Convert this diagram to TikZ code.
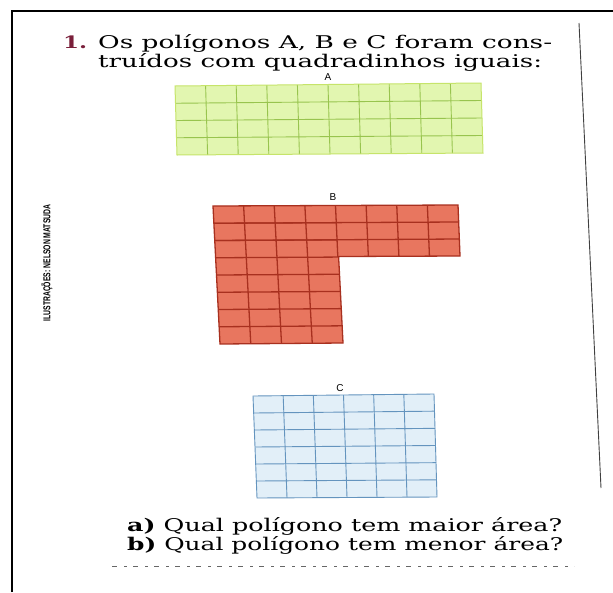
\documentclass[tikz,border=0pt]{standalone}
\usepackage{fontspec}
\usepackage{graphicx}
\setmainfont{DejaVu Serif}
\setsansfont{Liberation Sans}
\usetikzlibrary{calc}
\definecolor{afill}{HTML}{E2F6B0}
\definecolor{aline}{HTML}{98C44E}
\definecolor{aedge}{HTML}{C6E46A}
\definecolor{bfill}{HTML}{E8765F}
\definecolor{bline}{HTML}{A8301F}
\definecolor{cfill}{HTML}{E2EFF8}
\definecolor{cline}{HTML}{6494BE}
\definecolor{numred}{HTML}{7A1F3A}
\newcommand{\gridv}[6]{% tl tr br bl style list
  \foreach \i in {#6} {\draw[#5] ($(#1)!\i!(#2)$) -- ($(#4)!\i!(#3)$);}}
\newcommand{\gridh}[6]{%
  \foreach \j in {#6} {\draw[#5] ($(#1)!\j!(#4)$) -- ($(#2)!\j!(#3)$);}}
\begin{document}
\begin{tikzpicture}[x=1pt,y=-1pt,
  txt/.style={anchor=base west,inner sep=0pt},
  lbl/.style={inner sep=0pt,font=\sffamily\fontsize{10}{10}\selectfont},
  alin/.style={aline,line width=0.9pt},
  blin/.style={bline,line width=1.3pt},
  clin/.style={cline,line width=0.9pt}]
\useasboundingbox (0,0) rectangle (613,592);
\fill[white] (0,0) rectangle (613,592);
% frame
\draw[black,line width=1.5pt] (12,592) -- (12,11) -- (613,11);
\coordinate (vt) at (579,23);
\coordinate (vb) at (601,488);
\draw[black!75,line width=0.9pt] (vt) -- (vb);
% heading
\node[txt,text=numred] (num) at (63,48) {\resizebox{24pt}{\height}{\fontsize{17}{17}\selectfont\bfseries 1.}};
\node[txt] (l1) at (98,48) {\resizebox{454pt}{\height}{\fontsize{17.5}{17.5}\selectfont Os polígonos A, B e C foram cons-}};
\node[txt] (l2) at (98,67) {\resizebox{444pt}{\height}{\fontsize{17.5}{17.5}\selectfont truídos com quadradinhos iguais:}};
% side credit
\node[inner sep=0pt,rotate=90] (cred) at (47,263) {\resizebox{117pt}{\height}{\sffamily\bfseries\fontsize{10}{10}\selectfont ILUSTRAÇÕES: NELSON MATSUDA}};
% polygon A
\coordinate (A1) at (175,86); \coordinate (A2) at (481,83);
\coordinate (A3) at (483,153); \coordinate (A4) at (177,155);
\fill[afill] (A1) -- (A2) -- (A3) -- (A4) -- cycle;
\gridv{A1}{A2}{A3}{A4}{alin}{0.1,0.2,0.3,0.4,0.5,0.6,0.7,0.8,0.9}
\gridh{A1}{A2}{A3}{A4}{alin}{0.25,0.5,0.75}
\draw[aedge,line width=1pt] (A1) -- (A2) -- (A3) -- (A4) -- cycle;
\node[lbl] (la) at (328,77) {A};
% polygon B
\coordinate (B1) at (213,206); \coordinate (B2) at (458,205);
\coordinate (B3) at (460,256); \coordinate (B4) at (338.6,256.5);
\coordinate (B5) at (343,343); \coordinate (B6) at (220,344);
\coordinate (Bm) at ($(B1)!0.375!(B6)$);
\coordinate (Bt) at ($(B1)!0.5!(B2)$);
\fill[bfill] (B1) -- (B2) -- (B3) -- (B4) -- (B5) -- (B6) -- cycle;
\gridv{B1}{B2}{B3}{Bm}{blin}{0.5,0.625,0.75,0.875}
\gridh{B1}{B2}{B3}{Bm}{blin}{0.3333,0.6667}
\gridv{B1}{Bt}{B5}{B6}{blin}{0.25,0.5,0.75}
\gridh{B1}{Bt}{B5}{B6}{blin}{0.125,0.25,0.375,0.5,0.625,0.75,0.875}
\draw[blin,line join=miter] (B1) -- (B2) -- (B3) -- (B4) -- (B5) -- (B6) -- cycle;
\node[lbl] (lb) at (333,197) {B};
% polygon C
\coordinate (C1) at (253,396); \coordinate (C2) at (434,394);
\coordinate (C3) at (437,497); \coordinate (C4) at (257,498);
\fill[cfill] (C1) -- (C2) -- (C3) -- (C4) -- cycle;
\gridv{C1}{C2}{C3}{C4}{clin}{0.16667,0.33333,0.5,0.66667,0.83333}
\gridh{C1}{C2}{C3}{C4}{clin}{0.16667,0.33333,0.5,0.66667,0.83333}
\draw[clin] (C1) -- (C2) -- (C3) -- (C4) -- cycle;
\node[lbl] (lc) at (340,388) {C};
% questions
\node[txt] (qa) at (127,531) {\resizebox{435pt}{\height}{\fontsize{17.5}{17.5}\selectfont\textbf{a)} Qual polígono tem maior área?}};
\node[txt] (qb) at (127,550) {\resizebox{436pt}{\height}{\fontsize{17.5}{17.5}\selectfont\textbf{b)} Qual polígono tem menor área?}};
% cut-off line fragments
\coordinate (f1) at (112,566); \coordinate (f2) at (574,566);
\draw[black!60,line width=0.9pt,dash pattern=on 5pt off 7pt on 3pt off 6pt] (f1) -- (f2);
\end{tikzpicture}
\end{document}
